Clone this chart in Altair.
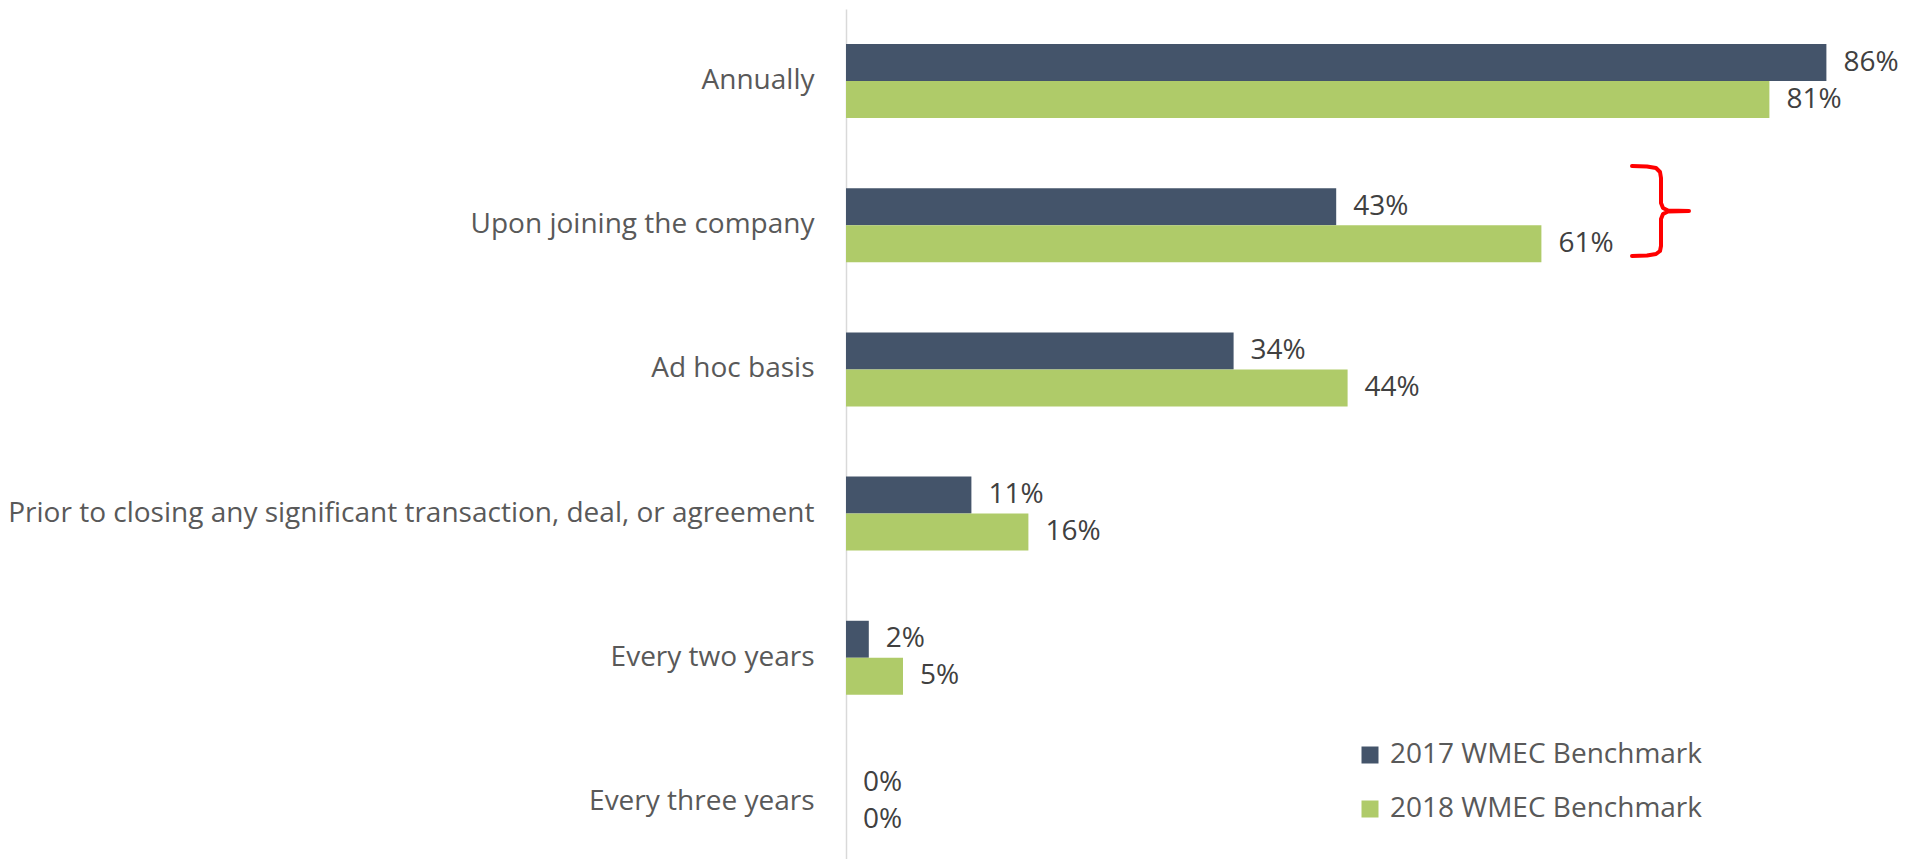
import altair as alt
import pandas as pd

categories = [
    "Annually",
    "Upon joining the company",
    "Ad hoc basis",
    "Prior to closing any significant transaction, deal, or agreement",
    "Every two years",
    "Every three years",
]
series = ["2017 WMEC Benchmark", "2018 WMEC Benchmark"]
values_2017 = [86, 43, 34, 11, 2, 0]
values_2018 = [81, 61, 44, 16, 5, 0]
colors = ["#44546A", "#AFCB69"]

# red brace annotation (pixel-space path, relative to plot area)
brace_px_x = [1632, 1647, 1656, 1660, 1661, 1661, 1663, 1668, 1689, 1668, 1663, 1661, 1661, 1660, 1656, 1647, 1632]
brace_px_y = [166, 166.5, 168, 172, 178, 203, 208, 210.5, 211, 211.5, 214, 219, 246, 251, 254, 255.5, 256]

PLOT_LEFT = 846
PLOT_TOP = 9
PX_PER_PCT = 11.4
WIDTH = 1052
HEIGHT = 850

rows = []
for c, a, b in zip(categories, values_2017, values_2018):
    rows.append({"category": c, "series": series[0], "value": a, "label": f"{a}%"})
    rows.append({"category": c, "series": series[1], "value": b, "label": f"{b}%"})
df = pd.DataFrame(rows)

brace = pd.DataFrame({
    "bx": [(x - PLOT_LEFT) / PX_PER_PCT for x in brace_px_x],
    "by": [y - PLOT_TOP for y in brace_px_y],
    "order": list(range(len(brace_px_x))),
})

xscale = alt.Scale(domain=[0, WIDTH / PX_PER_PCT], nice=False, zero=True)

y_enc = alt.Y(
    "category:N",
    sort=categories,
    scale=alt.Scale(range=[0, 865], paddingInner=0.487, paddingOuter=0.2435),
    axis=alt.Axis(
        title=None, ticks=False, labelFontSize=28, labelColor="#595959",
        labelFont="Open Sans", labelPadding=32, domainColor="#D9D9D9",
        domainWidth=1.5, labelLimit=0,
    ),
)
yoff = alt.YOffset("series:N", sort=series, scale=alt.Scale(paddingInner=0, paddingOuter=0))

base = alt.Chart(df)

bars = base.mark_bar().encode(
    x=alt.X("value:Q", scale=xscale, axis=None),
    y=y_enc,
    yOffset=yoff,
    color=alt.Color(
        "series:N",
        scale=alt.Scale(domain=series, range=colors),
        legend=alt.Legend(
            title=None, orient="none", legendX=510, legendY=732,
            symbolType="square", symbolSize=289, symbolStrokeWidth=0,
            labelFontSize=28, labelColor="#595959", labelFont="Open Sans",
            rowPadding=26, labelOffset=6, padding=0, labelLimit=0,
        ),
    ),
)

texts = base.mark_text(
    align="left", baseline="middle", dx=17, fontSize=28,
    color="#404040", font="Open Sans",
).encode(
    x=alt.X("value:Q", scale=xscale, axis=None),
    y=y_enc,
    yOffset=yoff,
    text="label:N",
)

main = alt.layer(bars, texts)

brace_layer = alt.Chart(brace).mark_line(
    color="#FF0000", strokeWidth=4, strokeCap="round", strokeJoin="round"
).encode(
    x=alt.X("bx:Q", scale=xscale, axis=None),
    y=alt.Y("by:Q", scale=alt.Scale(domain=[0, HEIGHT], range=[0, HEIGHT], nice=False, zero=False), axis=None),
    order="order:Q",
)

chart = alt.layer(main, brace_layer).resolve_scale(y="independent").properties(
    width=WIDTH,
    height=HEIGHT,
    autosize=alt.AutoSizeParams(type="none"),
    padding={"left": 838, "top": 1, "right": 0, "bottom": 0},
).configure_view(stroke=None)

chart.save("out.html", embed_options={"renderer": "svg", "actions": False})
